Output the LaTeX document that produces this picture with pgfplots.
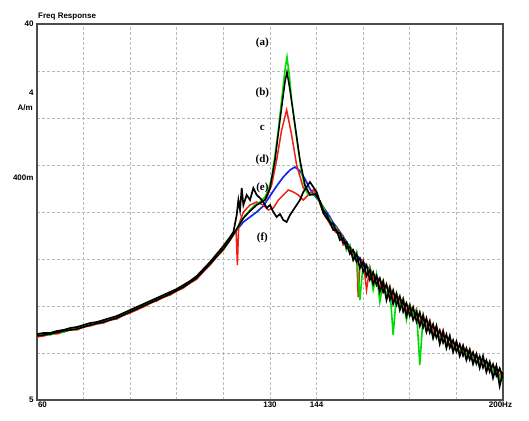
\documentclass[border=0pt]{standalone}
\usepackage{pgfplots}
\pgfplotsset{compat=1.18}
\usepackage{fontspec}
\setmainfont{Liberation Sans}
\newfontfamily\serifl{Liberation Serif}
\definecolor{cgreen}{RGB}{0,220,0}
\definecolor{cred}{RGB}{240,30,20}
\definecolor{cblue}{RGB}{20,40,240}
\begin{document}
\begin{tikzpicture}
\useasboundingbox (-37pt,-20pt) rectangle (492pt,400pt);
\begin{axis}[
  name=ax, at={(0,0)}, anchor=south west,
  scale only axis, width=466pt, height=376pt,
  xmin=60, xmax=200, ymin=0, ymax=376,
  xtick={60,74,...,200},
  xticklabels={\makebox[0pt][l]{\kern1pt 60},,,,,130,144,,,,\makebox[0pt][r]{200Hz\kern-9pt}},
  ytick={0,47,...,376},
  yticklabels={5,,,,,,,,40},
  extra y ticks={307,222},
  extra y tick labels={4,400m},
  extra y tick style={grid=none},
  grid=major,
  grid style={gray!55, densely dashed, line width=0.7pt},
  axis line style={gray!60!black, line width=1.2pt},
  tick style={draw=none},
  tick label style={font=\fontsize{8}{9}\selectfont\bfseries},
  xticklabel style={yshift=2pt},
  yticklabel style={xshift=0pt},
  clip=true,
]
% (d) blue
\addplot[cblue, line width=1.7pt] coordinates {
(60,65)(64,67)(68,70)(72,72)(76,76)(80,79)(84,83)(88,89)(92,95)(96,101)(100,107)(104,114)(108,123)(112,137)(116,152)(118,161)(120,170)(122,178)(124,183)(126,188)(128,194)(130,204)(132,214)(134,223)(136,230)(137.5,233)(139,229)(140.5,221)(142,211)(143.5,204)(145,198)
(146,193)(147,188)(148,183)(149,177)(150,173)(152,163)(154,153)(156,145)(158,138)(160,130)(162,123)(164,116)(166,110)(168,104)(170,98)(172,92)(174,87)(176,81)(178,75)(180,70)(182,65)(184,60)(186,55)(188,51)(190,47)(192,43)(194,39)(196,35)(198,31)(200,27)};
% (c) red
\addplot[cred, line width=1.5pt] coordinates {
(60,63)(62,64)(64,66)(66,66)(68,68)(70,70)(72,70)(74,73)(76,74)(78,76)(80,77)(82,80)(84,81)(86,85)(88,87)(90,91)(92,93)(94,97)(96,99)(98,103)(100,105)(102,109)(104,112)(106,117)(108,121)(110,129)(112,135)(114,143)(116,150)(118,160)(120,170)(122,182)(124,189)(126,195)(128,199)(129,202)(130.5,215)(132,240)(133.5,270)(135,290)(136.5,265)(138,235)(140,212)(142,206)(144,204)(145,199)
(146,192)(147,183)(148,182)(149,172)(150,173)(151,162)(152,164)(153,150)(154,154)(155,142)(156,147)(156.5,103)(157,135)(158,140)(159,110)(160,133)(161,120)(162,125)(163,112)(164,120)(165,104)(166,114)(167,100)(168,107)(169,95)(170,102)(171,88)(172,96)(173,84)(174,91)(175,76)(176,86)(177,72)(178,80)(179,66)(180,74)(181,60)(182,70)(183,56)(184,64)(185,51)(186,59)(187,47)(188,55)(189,44)(190,51)(191,40)(192,46)(193,36)(194,42)(195,32)(196,38)(197,28)(198,34)(199,24)(200,30)};
% (e) red
\addplot[cred, line width=1.5pt] coordinates {
(60,65)(63,66)(66,68)(69,70)(72,71)(75,74)(78,77)(81,79)(84,82)(87,86)(90,90)(93,95)(96,100)(99,104)(102,110)(105,115)(108,121)(111,132)(114,144)(117,156)(119,166)(119.8,170)(120.2,135)(120.6,175)(122,188)(124,195)(126,198)(128,195)(129.5,190)(131,192)(132.5,200)(134,205)(135.5,210)(137,208)(138.5,205)(140,200)(141.5,205)(143,210)(144.5,203)(145,196)
(146,188)(147,182)(148,176)(149,171)(150,167)(151,168)(152,155)(153,158)(154,146)(155,149)(156,138)(157,141)(158,130)(159,134)(160,122)(161,126)(162,115)(163,120)(164,108)(165,114)(166,102)(167,108)(168,96)(169,102)(170,90)(171,96)(172,85)(173,91)(174,80)(175,85)(176,74)(177,80)(178,68)(179,74)(180,63)(181,68)(182,58)(183,64)(184,54)(185,59)(186,50)(187,55)(188,46)(189,51)(190,42)(191,47)(192,38)(193,43)(194,34)(195,39)(196,30)(197,35)(198,26)(199,31)(200,24)};
% (a) green
\addplot[cgreen, line width=1.6pt] coordinates {
(60,64)(62,66)(64,65)(66,68)(68,68)(70,71)(72,71)(74,74)(76,75)(78,77)(80,78)(82,81)(84,82)(86,86)(88,88)(90,92)(92,94)(94,98)(96,100)(98,104)(100,106)(102,110)(104,113)(106,118)(108,122)(110,130)(112,136)(114,144)(116,151)(118,161)(120,171)(121,177)(122.5,184)(124,190)(125.5,195)(127,198)(128.5,203)(129.5,210)(130.5,222)(131.5,245)(132.5,270)(133.5,300)(134.5,330)(135.1,343)(135.8,325)(136.5,300)(137.5,275)(138.5,250)(139.5,228)(140.5,212)(141.5,205)(142.5,206)(143.5,205)(145,198)
(146,193)(147,185)(148,181)(149,174)(150,172)(151,160)(152,163)(153,150)(154,155)(155,140)(156,148)(157,100)(158,137)(159,125)(160,132)(161,110)(162,126)(163,98)(164,118)(165,105)(166,112)(167,65)(168,106)(169,92)(170,101)(171,80)(172,95)(173,84)(174,90)(175,35)(176,84)(177,70)(178,78)(179,62)(180,72)(181,58)(182,68)(183,55)(184,63)(185,50)(186,58)(187,47)(188,53)(189,44)(190,50)(191,40)(192,45)(193,36)(194,41)(195,33)(196,37)(197,28)(198,33)(199,20)(200,30)};
% (b) black
\addplot[black, line width=1.5pt] coordinates {
(60,64)(64,66)(68,69)(72,71)(76,75)(80,78)(84,82)(88,88)(92,94)(96,100)(100,106)(104,113)(108,122)(112,136)(116,151)(118,160)(120,171)(122,182)(124,189)(126,195)(128,199)(128.5,200)(130,212)(131.5,240)(133,280)(134.5,318)(135.1,328)(136,310)(137.5,275)(139,240)(140.5,215)(142,205)(143.5,206)(145,199)
(146,190)(147,186)(148,178)(149,176)(150,168)(151,167)(152,157)(153,158)(154,146)(155,150)(156,138)(157,142)(158,128)(159,135)(160,120)(161,128)(162,115)(163,122)(164,108)(165,116)(166,100)(167,110)(168,95)(169,104)(170,88)(171,97)(172,84)(173,93)(174,78)(175,88)(176,72)(177,82)(178,67)(179,76)(180,62)(181,70)(182,57)(183,66)(184,52)(185,60)(186,48)(187,56)(188,44)(189,52)(190,40)(191,48)(192,36)(193,44)(194,32)(195,40)(196,28)(197,36)(198,24)(199,32)(200,22)};
% (f) black
\addplot[black, line width=1.7pt] coordinates {
(60,66)(62,67)(64,67)(66,69)(68,70)(70,72)(72,73)(74,75)(76,77)(78,78)(80,80)(82,82)(84,84)(86,87)(88,90)(90,93)(92,96)(94,99)(96,102)(98,105)(100,108)(102,111)(104,115)(106,119)(108,124)(110,131)(112,138)(114,146)(116,154)(118,163)(119,168)(120,185)(120.5,200)(121,190)(121.5,212)(122,195)(123,205)(124,200)(125,212)(126,205)(127,202)(128,198)(129,192)(130,195)(131,188)(132,183)(133,186)(134,180)(135,178)(136,185)(137,190)(138,195)(139,200)(140,208)(141,213)(142,218)(143,213)(144,208)(145,198)
(146,187)(147,182)(148,178)(149,170)(150,170)(151,160)(152,162)(153,152)(154,153)(155,140)(156,146)(157,132)(158,138)(159,124)(160,130)(161,116)(162,124)(163,108)(164,118)(165,100)(166,112)(167,96)(168,106)(169,90)(170,100)(171,84)(172,94)(173,80)(174,88)(175,74)(176,84)(177,68)(178,78)(179,62)(180,74)(181,56)(182,68)(183,52)(184,64)(185,48)(186,58)(187,44)(188,54)(189,40)(190,50)(191,36)(192,46)(193,32)(194,44)(195,28)(196,38)(197,22)(198,34)(199,14)(200,28)};
\end{axis}
\begin{scope}[font=\fontsize{8}{9}\selectfont\bfseries]
\node[anchor=south west, inner sep=1pt] at ([yshift=3pt]ax.north west) {Freq Response};
\node[anchor=east, inner sep=1pt] at (-3pt,292pt) {A/m};
\end{scope}
\begin{scope}[font=\serifl\fontsize{11}{12}\selectfont\bfseries, inner sep=0.5pt]
\node at (225.4pt,357pt) {(a)};
\node at (225.4pt,307pt) {(b)};
\node at (225.4pt,272pt) {c};
\node at (225.4pt,240pt) {(d)};
\node at (225.4pt,212pt) {(e)};
\node at (225.4pt,162pt) {(f)};
\end{scope}
\end{tikzpicture}
\end{document}
